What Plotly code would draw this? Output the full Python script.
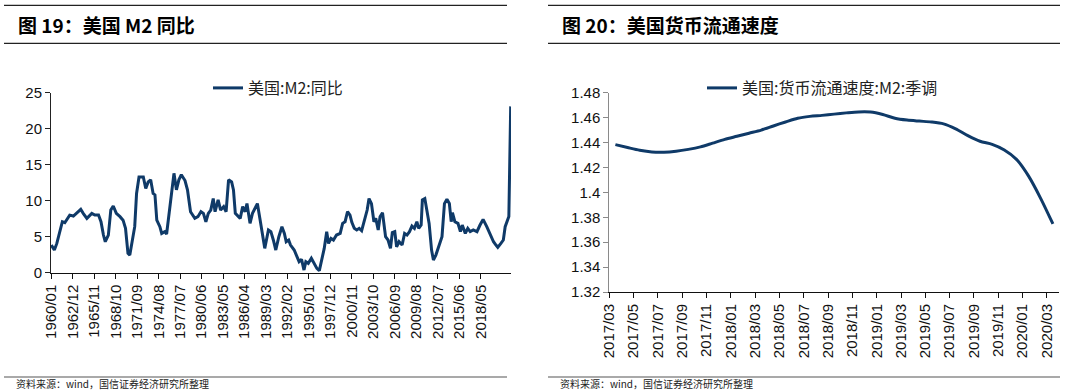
import plotly.graph_objects as go

W, H = 1071, 390

# ---------------- Data: left chart (US M2 YoY, %) ----------------
m2_tick_labels = ["1960/01", "1962/12", "1965/11", "1968/10", "1971/09", "1974/08", "1977/07",
                  "1980/06", "1983/05", "1986/04", "1989/03", "1992/02", "1995/01", "1997/12",
                  "2000/11", "2003/10", "2006/09", "2009/08", "2012/07", "2015/06", "2018/05"]
m2_tick_pos = [0, 35, 70, 105, 140, 175, 210, 245, 280, 315, 350, 385, 420, 455,
               490, 525, 560, 595, 630, 665, 700]
m2_cat = [0, 5, 9, 14, 18, 22, 27, 30, 36, 41, 48, 52, 58, 66, 71, 77, 81, 85, 88, 93, 97, 101,
          106, 112, 117, 121, 125, 128, 132, 136, 139, 143, 150, 154, 158, 162, 166, 169, 172,
          177, 180, 185, 188, 192, 196, 200, 204, 208, 212, 218, 222, 227, 234, 239, 244, 248,
          252, 256, 260, 264, 267, 272, 276, 281, 285, 289, 294, 297, 300, 305, 308, 312, 316,
          319, 324, 328, 332, 336, 340, 346, 348, 354, 358, 362, 366, 371, 376, 380, 383, 387,
          390, 396, 400, 404, 408, 412, 415, 419, 424, 429, 433, 437, 441, 445, 449, 452, 456,
          460, 465, 471, 475, 479, 483, 487, 490, 494, 498, 502, 506, 511, 515, 518, 522, 526,
          529, 533, 536, 540, 545, 549, 553, 556, 560, 563, 567, 572, 576, 580, 584, 588, 592,
          596, 599, 603, 605, 609, 612, 616, 620, 623, 627, 631, 637, 641, 645, 649, 652, 654,
          658, 663, 667, 670, 675, 679, 683, 688, 694, 699, 704, 710, 715, 721, 725, 728, 733,
          737, 740, 743, 746, 749]
m2_yoy = [3.84, 3.15, 4.07, 5.7, 7.08, 6.94, 7.55, 8.0, 7.87, 8.24, 8.8, 8.24, 7.55, 8.24, 8.0,
          8.0, 7.08, 5.23, 4.3, 5.23, 8.7, 9.26, 8.24, 7.78, 7.3, 6.16, 2.69, 2.45, 4.3, 6.39,
          11.0, 13.3, 13.3, 11.7, 12.6, 12.9, 11.0, 10.8, 7.3, 6.39, 5.46, 5.7, 5.37, 8.47, 11.5,
          13.8, 11.5, 12.9, 13.6, 12.8, 11.5, 8.47, 7.55, 7.78, 8.47, 8.24, 7.08, 8.24, 8.7, 10.3,
          8.47, 10.1, 8.7, 9.17, 8.47, 12.9, 12.6, 11.5, 8.24, 7.78, 7.55, 9.17, 8.47, 9.6, 6.85,
          8.24, 8.94, 9.6, 7.55, 4.77, 3.38, 5.93, 5.7, 4.54, 3.15, 5.0, 6.39, 5.46, 4.3, 4.54,
          3.84, 3.15, 2.22, 1.53, 1.85, 0.37, 1.53, 1.3, 2.0, 1.3, 0.6, 0.28, 2.0, 3.38, 5.7,
          4.07, 4.77, 4.54, 5.23, 5.46, 6.85, 7.08, 8.47, 8.0, 7.0, 6.16, 5.93, 6.16, 5.83, 7.3,
          8.7, 10.3, 9.6, 7.08, 7.55, 5.93, 7.78, 8.33, 5.0, 4.54, 3.38, 5.56, 5.7, 3.6, 4.3,
          3.84, 5.46, 5.23, 5.7, 6.48, 6.16, 7.08, 6.16, 6.62, 10.1, 10.3, 8.7, 6.85, 3.15, 1.76,
          2.45, 3.38, 5.0, 9.6, 10.2, 9.6, 7.08, 8.33, 7.08, 6.85, 5.7, 6.62, 5.46, 6.16, 5.7,
          5.93, 5.7, 6.62, 7.4, 6.39, 5.46, 4.3, 3.84, 3.52, 4.07, 4.54, 6.39, 7.08, 7.8, 23.1]
m2_yticks = [0, 5, 10, 15, 20, 25]

# ---------------- Data: right chart (US M2 velocity, SA) ----------------
vel_months = ["2017/03", "2017/04", "2017/05", "2017/06", "2017/07", "2017/08", "2017/09",
              "2017/10", "2017/11", "2017/12", "2018/01", "2018/02", "2018/03", "2018/04",
              "2018/05", "2018/06", "2018/07", "2018/08", "2018/09", "2018/10", "2018/11",
              "2018/12", "2019/01", "2019/02", "2019/03", "2019/04", "2019/05", "2019/06",
              "2019/07", "2019/08", "2019/09", "2019/10", "2019/11", "2019/12", "2020/01",
              "2020/02", "2020/03"]
vel_values = [1.4383, 1.4360, 1.4338, 1.4324, 1.4322, 1.4330, 1.4345, 1.4365, 1.4395, 1.4425,
              1.4450, 1.4475, 1.4500, 1.4533, 1.4565, 1.4595, 1.4610, 1.4618, 1.4628, 1.4638,
              1.4646, 1.4645, 1.4625, 1.4595, 1.4580, 1.4572, 1.4565, 1.4550, 1.4510, 1.4455,
              1.4410, 1.4385, 1.4340, 1.4265, 1.4130, 1.3950, 1.3746]
vel_tick_labels = vel_months[::2]
vel_yticks = [1.32, 1.34, 1.36, 1.38, 1.40, 1.42, 1.44, 1.46, 1.48]
vel_yticktext = ["1.32", "1.34", "1.36", "1.38", "1.4", "1.42", "1.44", "1.46", "1.48"]

LINE = "#0f3a68"
FONT = "Liberation Sans, Arial, Noto Sans CJK SC, sans-serif"
CJK = "Noto Sans CJK SC, Liberation Sans, sans-serif"


def px_x(p):
    return p / W


def px_y(p):
    return 1 - p / H


vel_idx = list(range(len(vel_months)))

fig = go.Figure()
fig.add_trace(go.Scatter(x=m2_cat, y=m2_yoy, mode="lines", name="美国:M2:同比",
                         line=dict(color=LINE, width=3), xaxis="x", yaxis="y",
                         legend="legend"))
fig.add_trace(go.Scatter(x=vel_idx, y=vel_values, mode="lines",
                         name="美国:货币流通速度:M2:季调",
                         line=dict(color=LINE, width=3, shape="spline", smoothing=0.8),
                         xaxis="x2", yaxis="y2", legend="legend2"))

axis_common = dict(showgrid=False, zeroline=False, showline=True, ticks="outside",
                   ticklen=5, tickwidth=1, automargin=False,
                   tickfont=dict(size=15, color="#111", family=FONT))

fig.update_layout(
    width=W, height=H,
    margin=dict(l=0, r=0, t=0, b=0, autoexpand=False),
    paper_bgcolor="white", plot_bgcolor="white",
    font=dict(family=FONT, color="#111"),
    showlegend=True,
    xaxis=dict(domain=[px_x(51), px_x(511)], range=[-0.5, 749.5], anchor="y",
               tickmode="array", tickvals=m2_tick_pos, ticktext=m2_tick_labels,
               tickangle=-90, linecolor="#111", tickcolor="#111", **axis_common),
    yaxis=dict(domain=[px_y(272.7), px_y(92.7)], range=[0, 25], anchor="x",
               tickmode="array", tickvals=m2_yticks, linecolor="#222", tickcolor="#222",
               **axis_common),
    xaxis2=dict(domain=[px_x(609.3), px_x(1059)], range=[-0.5, 36.5], anchor="y2",
                tickmode="array", tickvals=[i - 0.5 for i in vel_idx[::2]],
                ticktext=vel_tick_labels, tickangle=-90, linecolor="#111",
                tickcolor="#111", **axis_common),
    yaxis2=dict(domain=[px_y(292), px_y(92.7)], range=[1.32, 1.48], anchor="x2",
                tickmode="array", tickvals=vel_yticks, ticktext=vel_yticktext,
                linecolor="#8a8a8a", tickcolor="#8a8a8a", **axis_common),
    legend=dict(x=px_x(208), y=px_y(88), xanchor="left", yanchor="middle",
                bgcolor="rgba(0,0,0,0)", font=dict(size=16, family=CJK, color="#222")),
    legend2=dict(x=px_x(702), y=px_y(88), xanchor="left", yanchor="middle",
                 bgcolor="rgba(0,0,0,0)", font=dict(size=16, family=CJK, color="#222")),
)

# Title rules and source rules
shapes = []
for x0, x1 in [(4, 507), (548, 1060)]:
    shapes.append(dict(type="line", xref="paper", yref="paper", x0=px_x(x0), x1=px_x(x1),
                       y0=px_y(5.3), y1=px_y(5.3), line=dict(color="#222", width=1.3)))
    shapes.append(dict(type="line", xref="paper", yref="paper", x0=px_x(x0), x1=px_x(x1),
                       y0=px_y(43.3), y1=px_y(43.3), line=dict(color="#222", width=1.3)))
    shapes.append(dict(type="line", xref="paper", yref="paper", x0=px_x(x0), x1=px_x(x1),
                       y0=px_y(377), y1=px_y(377), line=dict(color="#8c8c8c", width=1.5)))
fig.update_layout(shapes=shapes)

annotations = [
    dict(text="<b>图 19：美国 M2 同比</b>", x=px_x(16), y=px_y(25), xanchor="left",
         yanchor="middle", showarrow=False, xref="paper", yref="paper",
         font=dict(size=19, family=CJK, color="#000")),
    dict(text="<b>图 20：美国货币流通速度</b>", x=px_x(560), y=px_y(25), xanchor="left",
         yanchor="middle", showarrow=False, xref="paper", yref="paper",
         font=dict(size=19, family=CJK, color="#000")),
    dict(text="资料来源：wind，国信证券经济研究所整理", x=px_x(14), y=px_y(383.5), xanchor="left",
         yanchor="middle", showarrow=False, xref="paper", yref="paper",
         font=dict(size=10, family=CJK, color="#222")),
    dict(text="资料来源：wind，国信证券经济研究所整理", x=px_x(558), y=px_y(383.5), xanchor="left",
         yanchor="middle", showarrow=False, xref="paper", yref="paper",
         font=dict(size=10, family=CJK, color="#222")),
]
fig.update_layout(annotations=annotations)

fig.write_html("out.html", config={"displayModeBar": False},
               post_script="document.body.style.margin='0';document.body.style.padding='0';"
                           "document.body.style.overflow='hidden';")
